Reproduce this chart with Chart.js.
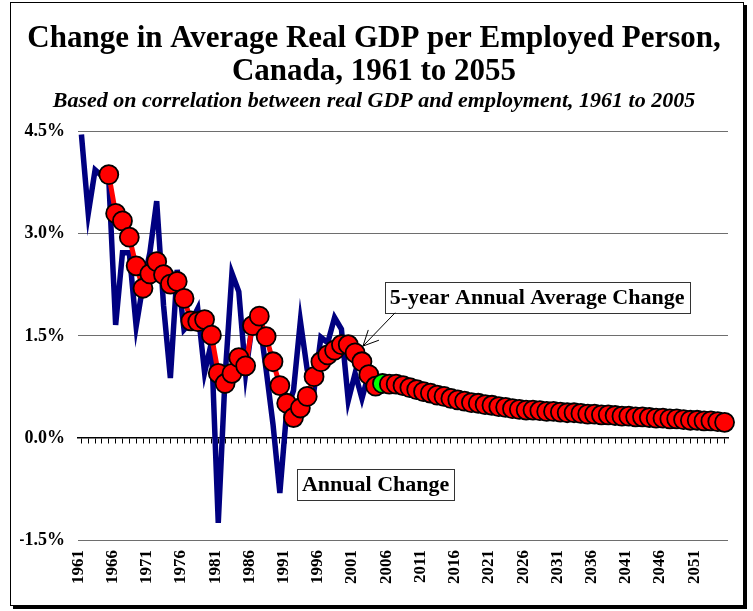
<!DOCTYPE html>
<html>
<head>
<meta charset="utf-8">
<script src="https://cdn.jsdelivr.net/npm/chart.js@4.4.1/dist/chart.umd.min.js"></script>
<style>
  html, body { margin: 0; padding: 0; background: #fff; }
  #frame {
    position: absolute; left: 10px; top: 2px; width: 732px; height: 602px;
    border: 1px solid #000; box-shadow: 3px 3px 0 #000; background: #fff;
  }
</style>
</head>
<body>
<div id="frame"><canvas id="gdpChart"></canvas></div>
<script>
// years on the category axis
const years = [
  1961, 1962, 1963, 1964, 1965, 1966, 1967, 1968, 1969, 1970,
  1971, 1972, 1973, 1974, 1975, 1976, 1977, 1978, 1979, 1980,
  1981, 1982, 1983, 1984, 1985, 1986, 1987, 1988, 1989, 1990,
  1991, 1992, 1993, 1994, 1995, 1996, 1997, 1998, 1999, 2000,
  2001, 2002, 2003, 2004, 2005, 2006, 2007, 2008, 2009, 2010,
  2011, 2012, 2013, 2014, 2015, 2016, 2017, 2018, 2019, 2020,
  2021, 2022, 2023, 2024, 2025, 2026, 2027, 2028, 2029, 2030,
  2031, 2032, 2033, 2034, 2035, 2036, 2037, 2038, 2039, 2040,
  2041, 2042, 2043, 2044, 2045, 2046, 2047, 2048, 2049, 2050,
  2051, 2052, 2053, 2054, 2055
];

// annual change (%), 1961 to 2005
const annualChange = [
  4.46, 3.30, 3.94, 3.85, 3.80, 1.66, 2.72, 2.72, 1.64, 2.25,
  2.72, 3.48, 1.95, 0.88, 2.47, 1.59, 1.70, 1.90, 0.96, 1.40,
  -1.25, 0.90, 2.42, 2.15, 0.95, 1.70, 1.75, 1.00, 0.20, -0.81,
  0.40, 0.70, 1.72, 1.00, 0.70, 1.48, 1.40, 1.77, 1.60, 0.55,
  0.95, 0.58, 0.95, 0.70, 0.80
];

// 5-year annual average change (%), 1965 to 2055
const fiveYearAvg = [
  null, null, null, null, 3.87, 3.30, 3.19, 2.95, 2.53, 2.20,
  2.41, 2.59, 2.40, 2.26, 2.30, 2.05, 1.72, 1.71, 1.74, 1.51,
  0.95, 0.80, 0.95, 1.18, 1.06, 1.65, 1.79, 1.49, 1.12, 0.77,
  0.51, 0.30, 0.44, 0.61, 0.90, 1.12, 1.22, 1.29, 1.37, 1.37,
  1.25, 1.12, 0.93, 0.76, 0.80, 0.79, 0.79, 0.77, 0.74, 0.71,
  0.68, 0.66, 0.63, 0.61, 0.58, 0.56, 0.54, 0.52, 0.51, 0.49,
  0.48, 0.46, 0.45, 0.43, 0.42, 0.41, 0.41, 0.40, 0.39, 0.39,
  0.38, 0.37, 0.37, 0.36, 0.35, 0.35, 0.34, 0.34, 0.33, 0.32,
  0.32, 0.31, 0.31, 0.30, 0.29, 0.29, 0.28, 0.28, 0.27, 0.26,
  0.26, 0.25, 0.25, 0.24, 0.23
];

const highlightYear = 2005;   // last actual year, drawn green
const labelEvery = 5;

const serif = "'Liberation Serif', 'Times New Roman', serif";

// text boxes and the arrow
const notes = {
  id: 'notes',
  afterDatasetsDraw(chart) {
    const { ctx, scales: { x, y } } = chart;
    ctx.save();
    ctx.font = 'bold 22px ' + serif;
    ctx.textAlign = 'center';
    ctx.textBaseline = 'middle';

    function box(text, cx, cy) {
      const w = ctx.measureText(text).width + 10;
      const h = 31;
      ctx.fillStyle = '#fff';
      ctx.fillRect(cx - w / 2, cy - h / 2, w, h);
      ctx.strokeStyle = '#333';
      ctx.lineWidth = 1;
      ctx.strokeRect(Math.round(cx - w / 2) + 0.5, Math.round(cy - h / 2) + 0.5, Math.round(w), h);
      ctx.fillStyle = '#000';
      ctx.fillText(text, cx, cy + 1);
    }

    box('5-year Annual Average Change', x.getPixelForValue(66.6), y.getPixelForValue(2.06));
    box('Annual Change', x.getPixelForValue(43.0), y.getPixelForValue(-0.68));

    // arrow pointing at the average line
    const x0 = x.getPixelForValue(45.85), y0 = y.getPixelForValue(1.84);
    const x1 = x.getPixelForValue(41.15), y1 = y.getPixelForValue(1.35);
    const ang = Math.atan2(y1 - y0, x1 - x0);
    ctx.strokeStyle = '#000';
    ctx.lineWidth = 1;
    ctx.beginPath();
    ctx.moveTo(x0, y0);
    ctx.lineTo(x1, y1);
    for (const d of [0.45, -0.45]) {
      ctx.moveTo(x1, y1);
      ctx.lineTo(x1 - 17 * Math.cos(ang + d), y1 - 17 * Math.sin(ang + d));
    }
    ctx.stroke();
    ctx.restore();
  }
};

new Chart(document.getElementById('gdpChart'), {
  type: 'line',
  data: {
    labels: years,
    datasets: [
      {
        label: '5-year Annual Average Change',
        data: fiveYearAvg,
        borderColor: '#ff0000',
        borderWidth: 5,
        pointRadius: 9.5,
        pointBorderWidth: 1.8,
        pointBorderColor: '#000',
        pointBackgroundColor: c => years[c.dataIndex] === highlightYear ? '#00ff00' : '#ff0000',
        tension: 0,
        order: 0
      },
      {
        label: 'Annual Change',
        data: annualChange,
        borderColor: '#000080',
        borderWidth: 5.5,
        pointRadius: 0,
        tension: 0,
        order: 1
      }
    ]
  },
  options: {
    responsive: true,
    maintainAspectRatio: false,
    animation: false,
    layout: { padding: { left: 9, right: 15, top: 0, bottom: 11 } },
    plugins: {
      legend: { display: false },
      tooltip: { enabled: false },
      title: {
        display: true,
        text: ['Change in Average Real GDP per Employed Person,', 'Canada, 1961 to 2055'],
        color: '#000',
        font: { family: serif, size: 31, weight: 'bold', lineHeight: 1.07 },
        padding: { top: 19, bottom: 0 }
      },
      subtitle: {
        display: true,
        text: 'Based on correlation between real GDP and employment, 1961 to 2005',
        color: '#000',
        font: { family: serif, size: 22, weight: 'bold', style: 'italic' },
        padding: { top: 0, bottom: 17 }
      }
    },
    scales: {
      x: {
        type: 'category',
        offset: true,
        grid: { display: false, drawTicks: false },
        border: { display: false },
        afterFit: s => { s.paddingLeft = 0; s.paddingRight = 0; },
        ticks: {
          autoSkip: false,
          minRotation: 90,
          maxRotation: 90,
          padding: 10,
          labelOffset: -3,
          color: '#000',
          font: { family: serif, size: 17, weight: 'bold' },
          callback: (v, i) => (years[i] - years[0]) % labelEvery === 0 ? String(years[i]) : ''
        }
      },
      // zero line with a tick between each year
      xZero: {
        type: 'category',
        axis: 'x',
        labels: years,
        offset: true,
        position: { y: 0 },
        afterFit: s => { s.paddingLeft = 0; s.paddingRight = 0; },
        grid: { drawOnChartArea: false, drawTicks: true, tickLength: 5, color: '#000', lineWidth: 1 },
        border: { display: true, color: '#000', width: 1.5 },
        ticks: { display: false, autoSkip: false }
      },
      y: {
        min: -1.5,
        max: 4.5,
        afterFit: s => { s.width = 58; },
        grid: { color: '#6e6e6e', lineWidth: 1, drawTicks: false },
        border: { display: false },
        ticks: {
          stepSize: 1.5,
          padding: 13,
          color: '#000',
          font: { family: serif, size: 18, weight: 'bold' },
          callback: v => v.toFixed(1) + '%'
        }
      }
    }
  },
  plugins: [notes]
});
</script>
</body>
</html>
